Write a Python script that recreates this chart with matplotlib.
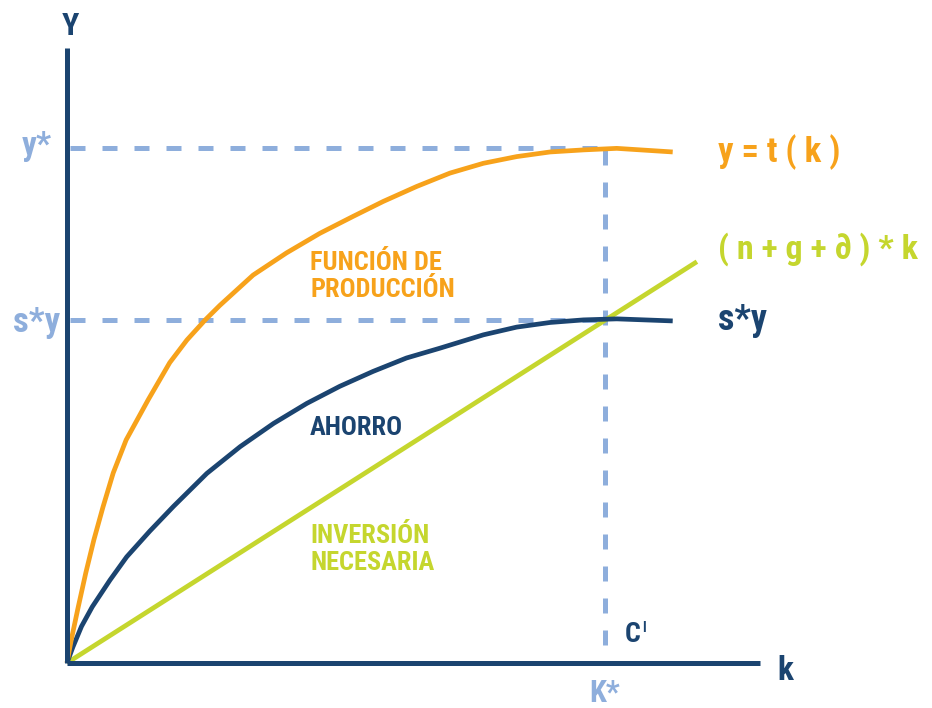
import matplotlib
matplotlib.use("Agg")
import matplotlib.pyplot as plt
from matplotlib import font_manager

# colours
NAVY = "#1B4470"
ORANGE = "#F7A21B"
GREEN = "#C5D62E"
LIGHT = "#8EAEDC"

# pick a narrow bold face if one is installed
family = 'DejaVu Sans'
for cand in ['Roboto Condensed', 'Liberation Sans Narrow', 'DejaVu Sans Condensed',
             'Open Sans Condensed', 'Noto Sans Condensed']:
    try:
        font_manager.findfont(font_manager.FontProperties(family=cand),
                              fallback_to_default=False)
        family = cand
        break
    except ValueError:
        pass
plt.rcParams['font.family'] = [family, 'DejaVu Sans']
plt.rcParams['font.weight'] = 'bold'
plt.rcParams['font.stretch'] = 'condensed'

# y = t(k)  (produccion)
prod_k = [0, 0.08, 0.21, 0.35, 0.50, 0.67, 0.86, 1.10, 1.51, 1.91, 2.23,
          2.57, 2.84, 3.46, 4.08, 4.70, 5.32, 5.88, 6.50, 7.12, 7.74,
          8.36, 8.98, 9.60, 10.22, 11.26]
prod_y = [0, 0.45, 1.09, 1.75, 2.39, 3.03, 3.69, 4.33, 5.11, 5.83, 6.27,
          6.66, 6.94, 7.53, 7.96, 8.34, 8.67, 8.96, 9.25, 9.51, 9.70,
          9.83, 9.92, 9.96, 9.99, 9.92]

# s*y  (ahorro)
sav_k = [0, 0.11, 0.27, 0.47, 0.80, 1.11, 1.54, 1.98, 2.60, 3.22, 3.84, 4.46,
         5.07, 5.69, 6.31, 6.93, 7.74, 8.36, 8.98, 9.60, 10.22, 11.26]
sav_y = [0, 0.31, 0.71, 1.09, 1.61, 2.06, 2.56, 3.04, 3.68, 4.20, 4.65, 5.04,
         5.37, 5.66, 5.92, 6.11, 6.37, 6.52, 6.61, 6.66, 6.68, 6.64]

# (n + g + d) * k  (inversion necesaria)
inv_k = [0, 11.71]
inv_y = [0, 7.79]

k_star = 10.0
y_star = 10.0
sy_star = 6.66
k_max = 12.88
y_max = 11.94

fig = plt.figure(figsize=(9.32, 7.08), dpi=100)
ax = fig.add_axes([0, 0, 1, 1])
ax.set_xlim(-1.245, 16.08)
ax.set_ylim(-0.874, 12.87)
ax.axis('off')

# dashed guides
dash = dict(color=LIGHT, lw=3.6, dashes=(3.0, 3.4), zorder=1)
ax.plot([0.05, k_star], [y_star, y_star], **dash)
ax.plot([0.05, k_star], [sy_star, sy_star], **dash)
ax.plot([k_star, k_star], [y_star - 0.05, 0], **dash)

# curves
ax.plot(inv_k, inv_y, color=GREEN, lw=3.4, solid_capstyle='butt', zorder=2)
ax.plot(sav_k, sav_y, color=NAVY, lw=3.4, solid_capstyle='butt',
        solid_joinstyle='round', zorder=3)
ax.plot(prod_k, prod_y, color=ORANGE, lw=3.4, solid_capstyle='butt',
        solid_joinstyle='round', zorder=4)

# axes
ax.plot([0, 0], [0, y_max], color=NAVY, lw=3.6, solid_capstyle='butt', zorder=5)
ax.plot([0, k_max], [0, 0], color=NAVY, lw=3.6, solid_capstyle='butt', zorder=5)

# axis names and marks
ax.text(0.056, 12.19, "Y", color=NAVY, fontsize=23, ha='center', va='baseline')
ax.text(13.35, -0.33, "k", color=NAVY, fontsize=24, ha='center', va='baseline')
ax.text(-0.28, 9.86, "y*", color=LIGHT, fontsize=24, ha='right', va='baseline')
ax.text(-0.13, 6.43, "s*y", color=LIGHT, fontsize=25, ha='right', va='baseline')
ax.text(k_star, -0.76, "K*", color=LIGHT, fontsize=22, ha='center', va='baseline')
ax.text(10.37, 0.41, "C", color=NAVY, fontsize=20, ha='left', va='baseline')
ax.text(10.70, 0.60, "I", color=NAVY, fontsize=10, ha='left', va='baseline')

# curve names on the right
ax.text(12.1, 9.73, "y = t ( k )", color=ORANGE, fontsize=25, ha='left',
        va='baseline')
ax.text(12.1, 7.86, "( n + g + \u2202 ) * k", color=GREEN, fontsize=24.5,
        ha='left', va='baseline')
ax.text(12.1, 6.47, "s*y", color=NAVY, fontsize=26, ha='left', va='baseline')

# inner labels
lab = 19
ax.text(4.52, 7.63, "FUNCIÓN DE", color=ORANGE, fontsize=lab, ha='left', va='baseline')
ax.text(4.52, 7.11, "PRODUCCIÓN", color=ORANGE, fontsize=lab, ha='left', va='baseline')
ax.text(4.52, 4.43, "AHORRO", color=NAVY, fontsize=lab, ha='left', va='baseline')
ax.text(4.52, 2.33, "INVERSIÓN", color=GREEN, fontsize=lab, ha='left', va='baseline')
ax.text(4.52, 1.81, "NECESARIA", color=GREEN, fontsize=lab, ha='left', va='baseline')

fig.savefig("out.png", dpi=100)
